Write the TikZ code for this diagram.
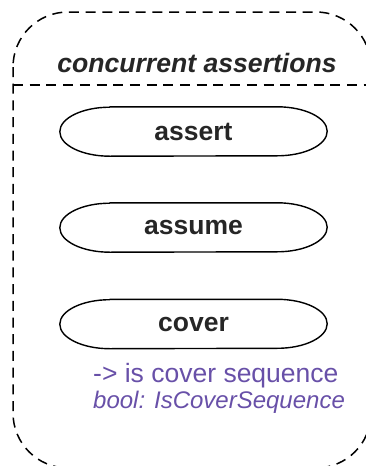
\documentclass[tikz,border=0pt]{standalone}
\usepackage{fontspec}
\setmainfont{Liberation Sans}
\definecolor{notepurple}{RGB}{104,80,168}
\begin{document}
\begin{tikzpicture}[x=1pt, y=-1pt, line join=round, line cap=butt]
	\tikzset{every node/.style={text=black!85, inner sep=0pt},
		frame/.style={dash pattern=on 10pt off 6.7pt, line width=1.5pt},
		pill/.style={minimum width=267pt, minimum height=49pt, font=\fontsize{26.5}{30}\selectfont\bfseries},
		note/.style={text=notepurple, anchor=base west}}
	\def\rx{50pt}\def\ry{24.5pt}
	\useasboundingbox (0,0) rectangle (366,466);
	\clip (0,0) rectangle (366,466);
	\draw[frame, rounded corners=55pt] (13,12) rectangle (371,468);
	\draw[frame] (13,85) -- (371,85);
	\node[anchor=base, font=\fontsize{26.6}{30}\selectfont\bfseries\itshape] (title) at (197,72) {concurrent assertions};
	\node[pill] (assert) at (193.5,131.5) {assert};
	\node[pill] (assume) at (193.5,227.5) {assume};
	\node[pill] (cover) at (193.5,324) {cover};
	\foreach \n in {assert,assume,cover}
		\draw[line width=1.4pt] ([xshift=\rx]\n.north west) -- ([xshift=-\rx]\n.north east)
			arc[start angle=90, end angle=-90, x radius=\rx, y radius=\ry]
			-- ([xshift=\rx]\n.south west)
			arc[start angle=270, end angle=90, x radius=\rx, y radius=\ry] -- cycle;
	\node[note, font=\fontsize{26.5}{30}\selectfont] (covernote) at (93,382) {-> is cover sequence};
	\node[note, font=\fontsize{24}{28}\selectfont\itshape] (coverflag) at (93,408) {bool: IsCoverSequence};
\end{tikzpicture}
\end{document}
